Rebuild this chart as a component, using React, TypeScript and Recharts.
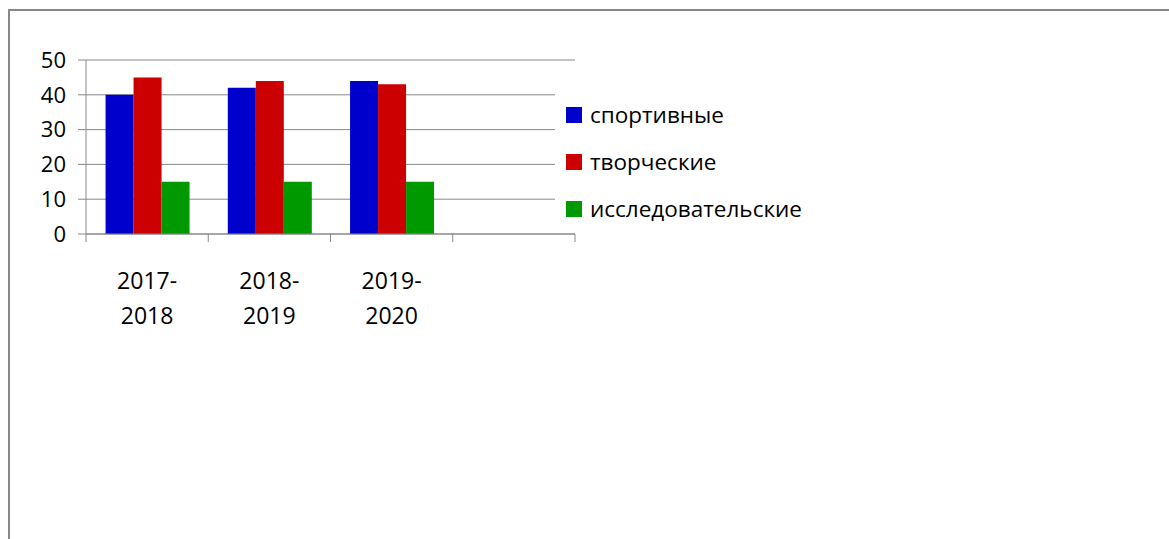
import { BarChart, Bar, XAxis, YAxis, CartesianGrid, Legend } from "recharts";

// учебные годы (4-я категория пустая, как в оригинале)
const years = ["2017-\n2018", "2018-\n2019", "2019-\n2020", ""];
const sport = [40, 42, 44, null];
const creative = [45, 44, 43, null];
const research = [15, 15, 15, null];
const yTicks = [0, 10, 20, 30, 40, 50];

const seriesList = [
  { key: "sport", name: "спортивные", color: "#0000CC" },
  { key: "creative", name: "творческие", color: "#CC0000" },
  { key: "research", name: "исследовательские", color: "#009900" },
];

const data = years.map((year, i) => ({
  year,
  sport: sport[i],
  creative: creative[i],
  research: research[i],
}));

const W = 1169;
const H = 539;
const LEFT = 86;
const RIGHT = 575;
const BAND = (RIGHT - LEFT) / years.length;
const FONT = "'Open Sans', sans-serif";
const GREY = "#888888";

const YearTick = ({ x, y, payload, index }: any) => {
  const lines = String(payload.value).split("\n");
  const left = x - BAND / 2;
  return (
    <g>
      <line x1={left} y1={y - 8} x2={left} y2={y} stroke={GREY} />
      {index === years.length - 1 && (
        <line x1={left + BAND} y1={y - 8} x2={left + BAND} y2={y} stroke={GREY} />
      )}
      <text x={x} y={y + 47} textAnchor="middle" fontSize={23} fontFamily={FONT} fill="#000">
        {lines.map((l, i) => (
          <tspan key={i} x={x} dy={i === 0 ? 0 : 35}>
            {l}
          </tspan>
        ))}
      </text>
    </g>
  );
};

const LegendBox = () => (
  <div style={{ background: "#fff", padding: "0 0 0 11px", fontFamily: FONT, fontSize: 22.5, whiteSpace: "nowrap" }}>
    {seriesList.map((s) => (
      <div key={s.key} style={{ display: "flex", alignItems: "center", height: 47 }}>
        <span style={{ width: 16, height: 16, background: s.color, marginRight: 8 }} />
        <span>{s.name}</span>
      </div>
    ))}
  </div>
);

export default function App() {
  return (
    <div style={{ position: "absolute", left: 0, top: 0, width: W, height: H, background: "#fff" }}>
      <div
        style={{
          position: "absolute",
          left: 8,
          top: 9,
          width: W - 8,
          height: H - 9,
          borderTop: `2px solid ${GREY}`,
          borderLeft: `2px solid ${GREY}`,
        }}
      />
      <BarChart
        width={W}
        height={H}
        data={data}
        margin={{ top: 60, right: W - RIGHT, bottom: H - 234 - 100, left: 0 }}
        barCategoryGap="16%"
        barGap={0}
      >
        <CartesianGrid horizontal vertical={false} stroke={GREY} strokeWidth={1} />
        <XAxis
          dataKey="year"
          interval={0}
          height={100}
          tickLine={false}
          axisLine={{ stroke: GREY }}
          tick={<YearTick />}
        />
        <YAxis
          domain={[0, 50]}
          ticks={yTicks}
          width={LEFT}
          tickSize={8}
          tickMargin={12}
          axisLine={{ stroke: GREY }}
          tickLine={{ stroke: GREY }}
          tick={{ fontSize: 22, fontFamily: FONT, fill: "#000" }}
          interval={0}
        />
        {seriesList.map((s) => (
          <Bar key={s.key} dataKey={s.key} name={s.name} fill={s.color} isAnimationActive={false} />
        ))}
        <Legend
          layout="horizontal"
          align="center"
          verticalAlign="middle"
          content={<LegendBox />}
          wrapperStyle={{ position: "absolute", left: 555, top: 91, width: "auto" }}
        />
      </BarChart>
    </div>
  );
}
